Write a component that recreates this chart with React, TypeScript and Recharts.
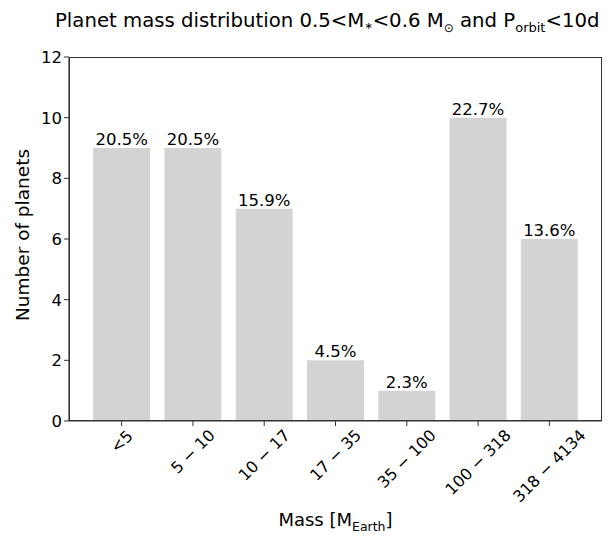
import React from 'react';
import { BarChart, Bar, XAxis, YAxis, LabelList } from 'recharts';

const massBins = ['<5', '5 − 10', '10 − 17', '17 − 35', '35 − 100', '100 − 318', '318 − 4134'];
const planetCounts = [9, 9, 7, 2, 1, 10, 6];
const percentLabels = ['20.5%', '20.5%', '15.9%', '4.5%', '2.3%', '22.7%', '13.6%'];
const yTicks = [0, 2, 4, 6, 8, 10, 12];

const data = massBins.map((bin, i) => ({
    bin,
    count: planetCounts[i],
    pct: percentLabels[i],
}));

const FONT = '"DejaVu Sans", sans-serif';
const AXIS_COLOR = '#333';

// rough DejaVu Sans advance widths in em
const charWidth = (c: string) => {
    if (c === ' ') return 0.25;
    if (c === '<' || c === '−') return 0.838;
    return 0.636;
};

const RotatedTick = (props: any) => {
    const { x, y, payload } = props;
    const fs = 16;
    const text: string = payload.value;
    const w = text.split('').reduce((s, c) => s + charWidth(c), 0) * fs;
    const h = fs * 0.9;
    const cy = y + (w + h) / (2 * Math.SQRT2);
    return (
        <text
            x={x}
            y={cy}
            textAnchor="middle"
            dominantBaseline="central"
            fontSize={fs}
            fontFamily={FONT}
            fill="#000"
            transform={`rotate(-45, ${x}, ${cy})`}
        >
            {text}
        </text>
    );
};

const App: React.FC = () => {
    return (
        <div style={{ position: 'absolute', left: 0, top: 0, width: 612, height: 537, fontFamily: FONT, background: '#fff' }}>
            <div style={{ position: 'absolute', left: 55, width: 533, top: 9, textAlign: 'center', fontSize: 19.7, whiteSpace: 'nowrap' }}>
                Planet mass distribution 0.5&lt;M<sub style={{ fontSize: 10, verticalAlign: '-0.15em' }}>∗</sub>&lt;0.6 M<sub style={{ fontSize: 12 }}>⊙</sub> and P<sub style={{ fontSize: 13 }}>orbit</sub>&lt;10d
            </div>
            <BarChart
                width={612}
                height={537}
                data={data}
                margin={{ top: 57, right: 10, bottom: 0, left: 0 }}
                barCategoryGap="10%"
            >
                <XAxis
                    dataKey="bin"
                    height={116}
                    padding={{ left: 17, right: 17 }}
                    tick={<RotatedTick />}
                    tickSize={5}
                    tickMargin={2}
                    interval={0}
                    stroke={AXIS_COLOR}
                    axisLine={{ stroke: AXIS_COLOR, strokeWidth: 1.2 }}
                />
                <YAxis
                    width={69}
                    domain={[0, 12]}
                    ticks={yTicks}
                    tickSize={5}
                    tickMargin={2}
                    interval={0}
                    stroke={AXIS_COLOR}
                    axisLine={{ stroke: AXIS_COLOR, strokeWidth: 1.2 }}
                    tick={{ fontSize: 16.5, fill: '#000', fontFamily: FONT }}
                />
                <Bar dataKey="count" fill="#d3d3d3" isAnimationActive={false}>
                    <LabelList dataKey="pct" position="top" offset={3} fontSize={16.5} fill="#000" fontFamily={FONT} />
                </Bar>
            </BarChart>
            {/* axes frame (top/right spines) */}
            <div
                style={{
                    position: 'absolute',
                    left: 69,
                    top: 57,
                    width: 533,
                    height: 364,
                    boxSizing: 'border-box',
                    border: `1.2px solid ${AXIS_COLOR}`,
                    pointerEvents: 'none',
                }}
            />
            <div style={{ position: 'absolute', left: 69, width: 533, top: 509, textAlign: 'center', fontSize: 18, whiteSpace: 'nowrap' }}>
                Mass [M<sub style={{ fontSize: 12.5 }}>Earth</sub>]
            </div>
            <div
                style={{
                    position: 'absolute',
                    left: 22,
                    top: 235,
                    fontSize: 18.5,
                    whiteSpace: 'nowrap',
                    transform: 'translate(-50%, -50%) rotate(-90deg)',
                }}
            >
                Number of planets
            </div>
        </div>
    );
};

export default App;
